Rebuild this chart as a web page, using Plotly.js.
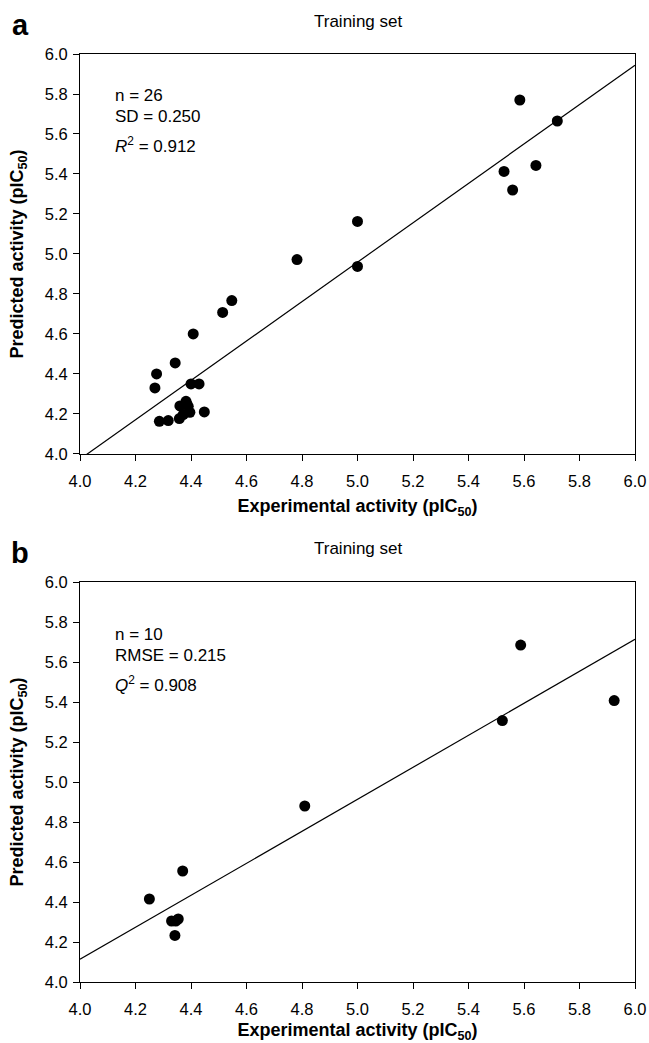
<!DOCTYPE html>
<html>
<head>
<meta charset="utf-8">
<script src="https://cdn.plot.ly/plotly-3.0.1.min.js"></script>
<style>html,body{margin:0;padding:0;background:#fff;}</style>
</head>
<body>
<div id="chart" style="width:649px;height:1043px;"></div>
<script>
// Panel a: training set
const expA = [5.585, 5.72, 5.528, 5.643, 5.559, 5.0, 5.0, 4.782, 4.547, 4.514, 4.408, 4.343, 4.276, 4.27, 4.40, 4.429, 4.448, 4.286, 4.318, 4.382, 4.385, 4.36, 4.39, 4.396, 4.358, 4.372];
const predA = [5.77, 5.665, 5.413, 5.443, 5.32, 5.163, 4.938, 4.972, 4.767, 4.708, 4.60, 4.455, 4.40, 4.33, 4.35, 4.35, 4.21, 4.163, 4.167, 4.263, 4.25, 4.24, 4.238, 4.208, 4.177, 4.197];
const fitA = {slope: 0.985, intercept: 0.034};
const statsA = ["n = 26", "SD = 0.250", "<i>R</i><sup>2</sup> = 0.912"];

// Panel b
const expB = [4.25, 4.37, 4.33, 4.354, 4.345, 4.342, 4.81, 5.522, 5.588, 5.925];
const predB = [4.415, 4.555, 4.305, 4.315, 4.305, 4.233, 4.88, 5.307, 5.685, 5.407];
const fitB = {slope: 0.8, intercept: 0.9135};
const statsB = ["n = 10", "RMSE = 0.215", "<i>Q</i><sup>2</sup> = 0.908"];

const panelLabels = ["a", "b"];
const panelTitle = "Training set";
const xTitle = "Experimental activity (pIC<sub>50</sub>)";
const yTitle = "Predicted activity (pIC<sub>50</sub>)";
const axisRange = [4, 6];

const FONT = "Liberation Sans, Arial, Helvetica, sans-serif";

function lineTrace(fit, xa, ya) {
  const xs = axisRange.slice();
  return {x: xs, y: xs.map(v => fit.slope * v + fit.intercept), mode: 'lines',
    line: {color: '#000', width: 1.2}, xaxis: xa, yaxis: ya, hoverinfo: 'skip', showlegend: false};
}
function pts(x, y, xa, ya) {
  return {x: x, y: y, mode: 'markers', marker: {color: '#000', size: 11}, xaxis: xa, yaxis: ya, showlegend: false};
}

const data = [
  lineTrace(fitA, 'x', 'y'), pts(expA, predA, 'x', 'y'),
  lineTrace(fitB, 'x2', 'y2'), pts(expB, predB, 'x2', 'y2')
];

function xaxisDef(anchor) {
  return {range: axisRange, dtick: 0.2, tickformat: '.1f', ticks: 'outside', ticklen: 6, tickcolor: '#000',
    showline: true, mirror: true, linecolor: '#000', linewidth: 1, showgrid: false, zeroline: false,
    ticklabelstandoff: 6,
    anchor: anchor, tickfont: {family: FONT, size: 16.5, color: '#000'},
    title: {text: xTitle, font: {family: FONT, size: 18, color: '#000', weight: 'bold'}, standoff: 10}};
}
function yaxisDef(anchor, domain) {
  return {range: axisRange, dtick: 0.2, tickformat: '.1f', ticks: 'outside', ticklen: 6, tickcolor: '#000',
    showline: true, mirror: true, linecolor: '#000', linewidth: 1, showgrid: false, zeroline: false,
    ticklabelstandoff: 2,
    anchor: anchor, domain: domain, tickfont: {family: FONT, size: 16.5, color: '#000'},
    title: {text: yTitle, font: {family: FONT, size: 18, color: '#000', weight: 'bold'}, standoff: 16}};
}

const ann = [];
function statAnn(lines, xref, yref, ys) {
  lines.forEach((t, i) => ann.push({text: t, xref: xref, yref: yref, x: 4.12, y: ys[i], xanchor: 'left', yanchor: 'middle',
    showarrow: false, font: {family: FONT, size: 17, color: '#000'}}));
}
statAnn(statsA, 'x', 'y', [5.793, 5.687, 5.545]);
statAnn(statsB, 'x2', 'y2', [5.74, 5.635, 5.49]);
[[1.0345, 1.031], [0.4666, 0.4623]].forEach((p, i) => {
  ann.push({text: panelTitle, xref: 'paper', yref: 'paper', x: 0.5, y: p[0], xanchor: 'center', yanchor: 'middle',
    showarrow: false, font: {family: FONT, size: 17, color: '#000'}});
  ann.push({text: panelLabels[i], xref: 'paper', yref: 'paper', x: -0.108, y: p[1], xanchor: 'center', yanchor: 'middle',
    showarrow: false, font: {family: FONT, size: 29, color: '#000', weight: 'bold'}});
});

const layout = {
  width: 649, height: 1043,
  margin: {l: 80, r: 14, t: 54, b: 61},
  paper_bgcolor: '#fff', plot_bgcolor: '#fff',
  showlegend: false,
  xaxis: xaxisDef('y'),
  yaxis: yaxisDef('x', [0.569, 1]),
  xaxis2: xaxisDef('y2'),
  yaxis2: yaxisDef('x2', [0, 0.431]),
  annotations: ann
};
Plotly.newPlot('chart', data, layout, {displayModeBar: false, staticPlot: true});
</script>
</body>
</html>
